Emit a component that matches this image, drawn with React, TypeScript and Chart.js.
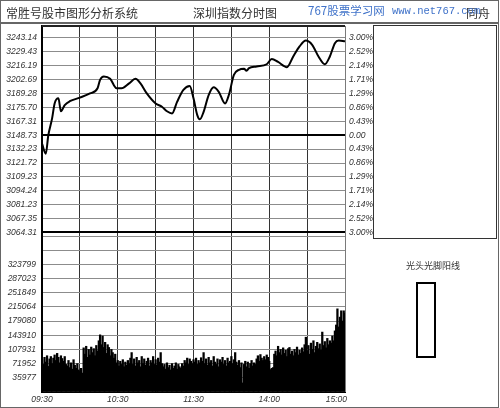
import React, { useEffect, useRef } from "react";
import { Chart, registerables } from "chart.js";

Chart.register(...registerables);

// Previous close of the Shenzhen index; the price axis is ±3% around it.
const BASE = 3148.73;

// Left-axis price labels, top to bottom.
const PRICE_LABELS = [
  "3243.14", "3229.43", "3216.19", "3202.69", "3189.28", "3175.70", "3167.31", "3148.73",
  "3132.23", "3121.72", "3109.23", "3094.24", "3081.23", "3067.35", "3064.31",
];
// Right-axis change labels, top to bottom.
const PCT_LABELS = [
  "3.00%", "2.52%", "2.14%", "1.71%", "1.29%", "0.86%", "0.43%", "0.00",
  "0.43%", "0.86%", "1.29%", "1.71%", "2.14%", "2.52%", "3.00%",
];
// Volume labels, bottom to top.
const VOLUME_LABELS = ["35977", "71952", "107931", "143910", "179080", "215064", "251849", "287023", "323799"];
const VOLUME_STEP_K = 35.977;

const TIME_LABELS = ["09:30", "10:30", "11:30", "14:00", "15:00"];
const TIME_LABEL_MINUTES = [0, 60, 120, 180, 240];
const GRID_MINUTES = [0, 30, 60, 90, 120, 150, 180, 210, 240];

// Intraday index path (minute of session, index level).
const PRICE_MINUTES = [
  0, 3, 5, 8, 10, 13, 15, 18, 22, 30, 38, 44, 46, 49, 54, 59, 63, 69, 74, 78,
  83, 90, 95, 99, 103, 107, 112, 117, 120, 123, 125, 128, 132, 136, 140, 145, 148, 152, 156, 160,
  162, 164, 170, 178, 182, 187, 194, 199, 204, 209, 214, 219, 224, 228, 232, 235, 240,
];
const PRICES = [
  3140.54, 3130.78, 3148.73, 3165.10, 3179.59, 3184.63, 3172.03, 3178.01, 3181.79, 3185.26,
  3189.35, 3194.40, 3202.57, 3205.72, 3203.52, 3194.40, 3194.40, 3199.11, 3203.52, 3199.11,
  3189.35, 3179.59, 3176.44, 3172.03, 3169.83, 3181.16, 3192.81, 3196.59, 3184.63, 3168.25,
  3164.16, 3171.40, 3187.77, 3195.33, 3190.92, 3179.59, 3187.77, 3207.30, 3212.33, 3213.28,
  3211.39, 3213.91, 3215.48, 3217.68, 3222.72, 3219.89, 3214.85, 3225.24, 3235.00, 3240.67,
  3236.58, 3225.24, 3217.68, 3225.24, 3238.15, 3240.67, 3240.04,
];

// Per-minute volume, in thousands.
const VOLUMES_K = [
  82, 70, 88, 76, 92, 65, 84, 90, 72, 86,
  94, 80, 98, 88, 74, 92, 85, 78, 90, 70,
  66, 80, 62, 74, 58, 82, 68, 60, 72, 56,
  52, 60, 48, 112, 96, 116, 88, 108, 94, 114,
  100, 110, 92, 118, 104, 130, 145, 120, 142, 113,
  126, 98, 120, 113, 92, 108, 100, 86, 96, 74,
  80, 66, 78, 70, 82, 64, 76, 68, 80, 72,
  86, 100, 70, 84, 66, 88, 74, 80, 64, 90,
  72, 84, 68, 78, 86, 66, 80, 74, 90, 70,
  82, 68, 86, 76, 100, 72, 64, 70, 58, 74,
  62, 68, 56, 72, 60, 66, 74, 58, 70, 64,
  60, 72, 66, 80, 74, 86, 70, 84, 78, 72,
  82, 76, 86, 70, 80, 74, 87, 78, 100, 72,
  84, 68, 88, 74, 80, 66, 90, 76, 70, 84,
  64, 82, 76, 88, 70, 80, 66, 86, 74, 78,
  90, 72, 82, 100, 76, 68, 80, 62, 74, 23,
  70, 78, 64, 76, 60, 72, 80, 66, 74, 70,
  84, 92, 78, 95, 86, 80, 90, 82, 94, 88,
  78, 57, 60, 62, 96, 104, 92, 116, 100, 108,
  94, 112, 98, 106, 90, 110, 113, 96, 104, 92,
  108, 100, 114, 94, 106, 98, 112, 102, 120, 139,
  104, 118, 96, 124, 108, 130, 100, 116, 126, 110,
  122, 106, 152, 118, 128, 112, 136, 120, 130, 124,
  142, 130, 155, 170, 211, 165, 190, 206, 180, 206, 200,
];

const AXIS_FONT = { family: '"Liberation Sans", Arial, sans-serif', size: 8.5, style: "italic" as const };
const CJK = '"Noto Sans CJK SC", sans-serif';

export default function App() {
  const priceRef = useRef<HTMLCanvasElement>(null);
  const volRef = useRef<HTMLCanvasElement>(null);

  useEffect(() => {
    const timeTicks = (scale: any) => {
      scale.ticks = GRID_MINUTES.map((v) => ({ value: v }));
    };
    const priceTicks = (scale: any) => {
      scale.ticks = Array.from({ length: 15 }, (_, i) => ({ value: BASE * (1 + ((i - 7) * 3) / 700) }));
    };
    const vGridColor = (ctx: any) => (ctx.tick && ctx.tick.value === 240 ? "#7a7a7a" : "#333");

    const topBorder = {
      id: "topBorder",
      afterDraw(chart: any) {
        const { ctx, chartArea: a } = chart;
        ctx.save();
        ctx.strokeStyle = "#222";
        ctx.lineWidth = 2;
        ctx.beginPath();
        ctx.moveTo(a.left, a.top);
        ctx.lineTo(a.right, a.top);
        ctx.stroke();
        ctx.restore();
      },
    };

    const timeLabels = {
      id: "timeLabels",
      afterDraw(chart: any) {
        const x = chart.scales.x;
        const ctx = chart.ctx;
        ctx.save();
        ctx.font = 'italic 8.5px "Liberation Sans", Arial, sans-serif';
        ctx.fillStyle = "#333";
        ctx.textBaseline = "middle";
        TIME_LABEL_MINUTES.forEach((m, i) => {
          const px = x.getPixelForValue(m);
          const last = i === TIME_LABEL_MINUTES.length - 1;
          ctx.textAlign = last ? "right" : "center";
          ctx.fillText(TIME_LABELS[i], last ? px + 2 : px, 400);
        });
        ctx.restore();
      },
    };

    const priceMin = BASE * (1 - 3.108 / 100);
    const priceMax = BASE * (1 + 3.37 / 100);

    const priceChart = new Chart(priceRef.current!, {
      type: "line",
      data: {
        datasets: [
          {
            data: PRICE_MINUTES.map((m, i) => ({ x: m, y: PRICES[i] })),
            borderColor: "#000",
            borderWidth: 2,
            pointRadius: 0,
            cubicInterpolationMode: "monotone",
            fill: false,
          },
        ],
      },
      options: {
        animation: false,
        responsive: false,
        devicePixelRatio: 1,
        layout: { padding: { left: 0, top: 26, right: 125, bottom: 408 - 236 } },
        plugins: { legend: { display: false }, tooltip: { enabled: false } },
        scales: {
          x: {
            type: "linear",
            min: 0,
            max: 240,
            afterBuildTicks: timeTicks,
            afterFit: (s: any) => {
              s.height = 0;
            },
            ticks: { display: false },
            grid: { color: vGridColor, lineWidth: 1, drawTicks: false },
            border: { display: false },
          },
          y: {
            type: "linear",
            position: "left",
            min: priceMin,
            max: priceMax,
            afterBuildTicks: priceTicks,
            afterFit: (s: any) => {
              s.width = 42;
            },
            ticks: {
              autoSkip: false,
              padding: 5,
              color: "#333",
              font: AXIS_FONT,
              callback: (_v: any, i: number) => PRICE_LABELS[14 - i],
            },
            grid: {
              drawTicks: false,
              color: (ctx: any) => (ctx.index === 7 || ctx.index === 0 ? "#000" : "#8c8c8c"),
              lineWidth: (ctx: any) => (ctx.index === 7 || ctx.index === 0 ? 2 : 1),
            },
            border: { color: "#000", width: 2 },
          },
          yr: {
            type: "linear",
            position: "right",
            min: priceMin,
            max: priceMax,
            afterBuildTicks: priceTicks,
            afterFit: (s: any) => {
              s.width = 30;
            },
            ticks: {
              autoSkip: false,
              padding: 4,
              color: "#333",
              font: AXIS_FONT,
              callback: (_v: any, i: number) => PCT_LABELS[14 - i],
            },
            grid: { display: false, drawTicks: false },
            border: { display: false },
          },
        },
      },
      plugins: [topBorder],
    } as any);

    const volChart = new Chart(volRef.current!, {
      type: "bar",
      data: {
        datasets: [
          {
            data: VOLUMES_K.map((v, i) => ({ x: i, y: v })),
            backgroundColor: "#000",
            borderWidth: 0,
            barThickness: 1.6,
          },
        ],
      },
      options: {
        animation: false,
        responsive: false,
        devicePixelRatio: 1,
        layout: { padding: { left: 0, top: 236, right: 155, bottom: 16 } },
        plugins: { legend: { display: false }, tooltip: { enabled: false } },
        scales: {
          x: {
            type: "linear",
            min: 0,
            max: 240,
            offset: false,
            afterBuildTicks: timeTicks,
            afterFit: (s: any) => {
              s.height = 0;
            },
            ticks: { display: false },
            grid: { color: vGridColor, lineWidth: 1, drawTicks: false, offset: false },
            border: { display: true, color: "#000", width: 1 },
          },
          y: {
            type: "linear",
            min: 0,
            max: 11 * VOLUME_STEP_K,
            afterBuildTicks: (s: any) => {
              s.ticks = Array.from({ length: 12 }, (_, i) => ({ value: i * VOLUME_STEP_K }));
            },
            afterFit: (s: any) => {
              s.width = 42;
            },
            ticks: {
              autoSkip: false,
              padding: 6,
              color: "#333",
              font: AXIS_FONT,
              callback: (_v: any, i: number) => (i >= 1 && i <= 9 ? VOLUME_LABELS[i - 1] : ""),
            },
            grid: { drawTicks: false, color: "#8c8c8c", lineWidth: 1 },
            border: { color: "#000", width: 2 },
          },
        },
      },
      plugins: [timeLabels],
    } as any);

    return () => {
      priceChart.destroy();
      volChart.destroy();
    };
  }, []);

  const abs = (s: React.CSSProperties): React.CSSProperties => ({ position: "absolute", ...s });

  return (
    <div style={abs({ left: 0, top: 0, width: 500, height: 408, background: "#fff", overflow: "hidden" })}>
      <canvas ref={volRef} width={500} height={408} style={abs({ left: 0, top: 0 })} />
      <canvas ref={priceRef} width={500} height={408} style={abs({ left: 0, top: 0 })} />

      {/* title bar */}
      <div style={abs({ left: 0, top: 22, width: 499, height: 2, background: "#666" })} />
      <div style={abs({ left: 6, top: 4, lineHeight: "18px", fontSize: 12, fontFamily: CJK, color: "#333", whiteSpace: "nowrap" })}>
        常胜号股市图形分析系统
      </div>
      <div style={abs({ left: 193, top: 4, lineHeight: "18px", fontSize: 12, fontFamily: CJK, color: "#333", whiteSpace: "nowrap" })}>
        深圳指数分时图
      </div>
      <div style={abs({ left: 466, top: 4, lineHeight: "18px", fontSize: 12, fontFamily: CJK, color: "#333", whiteSpace: "nowrap" })}>
        同舟
      </div>
      <div style={abs({ left: 308, top: 1, lineHeight: "18px", fontSize: 11.5, fontFamily: '"Noto Sans CJK SC", "DejaVu Sans", sans-serif', color: "#3f72c9", whiteSpace: "nowrap" })}>
        767股票学习网
      </div>
      <div style={abs({ left: 392, top: 2, lineHeight: "18px", fontSize: 10.5, fontFamily: '"Liberation Mono", "DejaVu Sans Mono", monospace', color: "#3f72c9", whiteSpace: "nowrap" })}>
        www.net767.com
      </div>

      {/* side panel */}
      <div style={abs({ left: 373, top: 25, width: 124, height: 214, border: "1px solid #333", boxSizing: "border-box" })} />
      <div style={abs({ left: 392, top: 258, width: 82, textAlign: "center", lineHeight: "16px", fontSize: 9, fontFamily: CJK, color: "#333" })}>
        光头光脚阳线
      </div>
      <div style={abs({ left: 416, top: 282, width: 20, height: 76, border: "2px solid #000", boxSizing: "border-box", background: "#fff" })} />

      {/* outer frame */}
      <div style={abs({ left: 0, top: 0, width: 499, height: 408, border: "1px solid #666", boxSizing: "border-box", pointerEvents: "none" })} />
    </div>
  );
}
